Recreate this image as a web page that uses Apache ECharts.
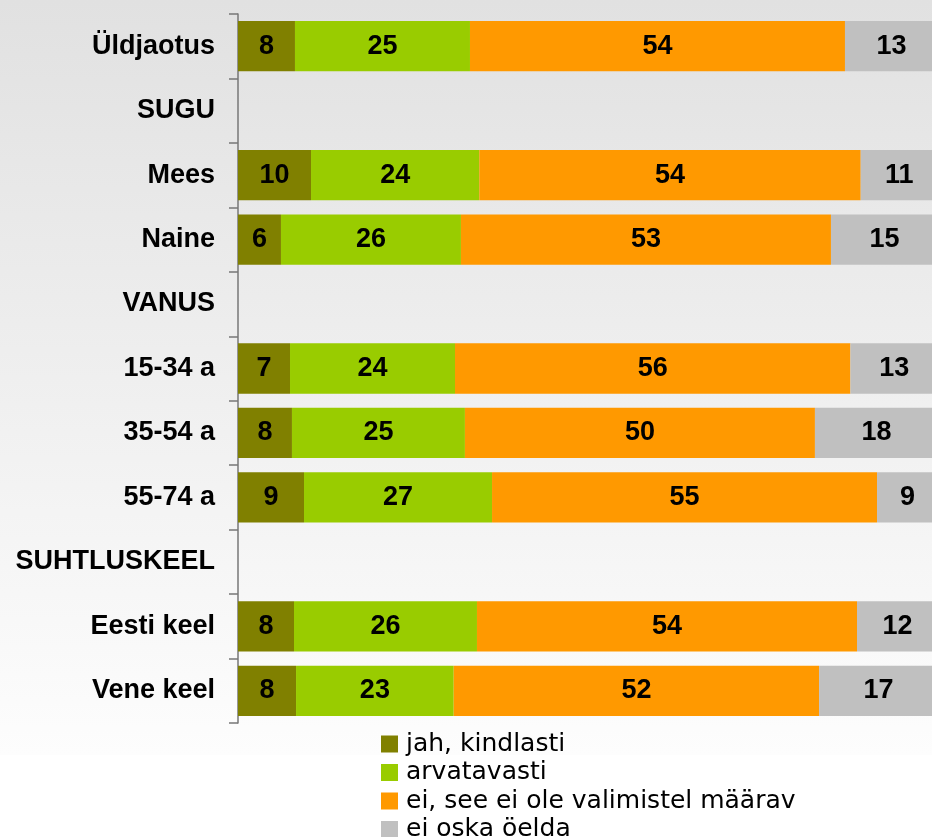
<!DOCTYPE html>
<html>
<head>
<meta charset="utf-8">
<script src="https://cdn.jsdelivr.net/npm/echarts@6/dist/echarts.min.js"></script>
<style>
  html, body { margin: 0; padding: 0; background: #ffffff; overflow: hidden; width: 932px; height: 837px; }
  #chart { width: 938px; height: 837px;
    background: linear-gradient(to bottom, #e1e1e1 0px, #fdfdfd 755px, #ffffff 755px); }
</style>
</head>
<body>
<div id="chart"></div>
<script>
const categories = ['Üldjaotus', 'SUGU', 'Mees', 'Naine', 'VANUS', '15-34 a', '35-54 a', '55-74 a', 'SUHTLUSKEEL', 'Eesti keel', 'Vene keel'];
const seriesNames = ['jah, kindlasti', 'arvatavasti', 'ei, see ei ole valimistel määrav', 'ei oska öelda'];
// Shares (%); labels show them rounded
const jahKindlasti = [8.14, null, 10.43, 6.14, null, 7.43, 7.71, 9.43, null, 8.0, 8.29];
const arvatavasti = [25.0, null, 24.04, 25.71, null, 23.57, 24.71, 26.86, null, 26.14, 22.53];
const eiMaarav = [53.57, null, 54.49, 52.86, null, 56.49, 50.0, 55.0, null, 54.29, 52.19];
const eiOskaOelda = [13.29, null, 11.04, 15.29, null, 12.51, 17.57, 8.71, null, 11.57, 16.99];
const colors = ['#808000', '#99cc00', '#ff9900', '#c0c0c0'];

const FONT = 'Arial, "Liberation Sans", sans-serif';
const LEGEND_FONT = '"DejaVu Sans", Arial, sans-serif';
const chart = echarts.init(document.getElementById('chart'));
const values = [jahKindlasti, arvatavasti, eiMaarav, eiOskaOelda];

chart.setOption({
  animation: false,
  color: colors,
  grid: { left: 238, right: 0, top: 14, bottom: 114, containLabel: false },
  legend: {
    orient: 'vertical',
    left: 376,
    top: 726,
    height: 140,
    itemWidth: 17,
    itemHeight: 17,
    itemGap: 2.5,
    icon: 'rect',
    data: seriesNames,
    textStyle: { fontFamily: LEGEND_FONT, fontSize: 25, color: '#000', lineHeight: 26, padding: [0, 0, 0, 3] }
  },
  xAxis: { type: 'value', min: 0, max: 100, show: false },
  yAxis: {
    type: 'category',
    data: categories,
    inverse: true,
    axisLine: { show: true, lineStyle: { color: '#777', width: 1.5 } },
    axisTick: { show: true, length: 9, lineStyle: { color: '#777', width: 1.5 } },
    axisLabel: { margin: 23, fontFamily: FONT, fontSize: 27, fontWeight: 'bold', color: '#000' },
    splitLine: { show: false }
  },
  series: seriesNames.map((name, i) => ({
    name: name,
    type: 'bar',
    stack: 'total',
    barCategoryGap: '22%',
    data: values[i],
    itemStyle: { color: colors[i] },
    label: {
      show: true,
      position: 'inside',
      fontFamily: FONT,
      fontSize: 27,
      fontWeight: 'bold',
      color: '#000',
      formatter: p => (p.value == null ? '' : String(Math.round(p.value)))
    }
  }))
});
</script>
</body>
</html>
